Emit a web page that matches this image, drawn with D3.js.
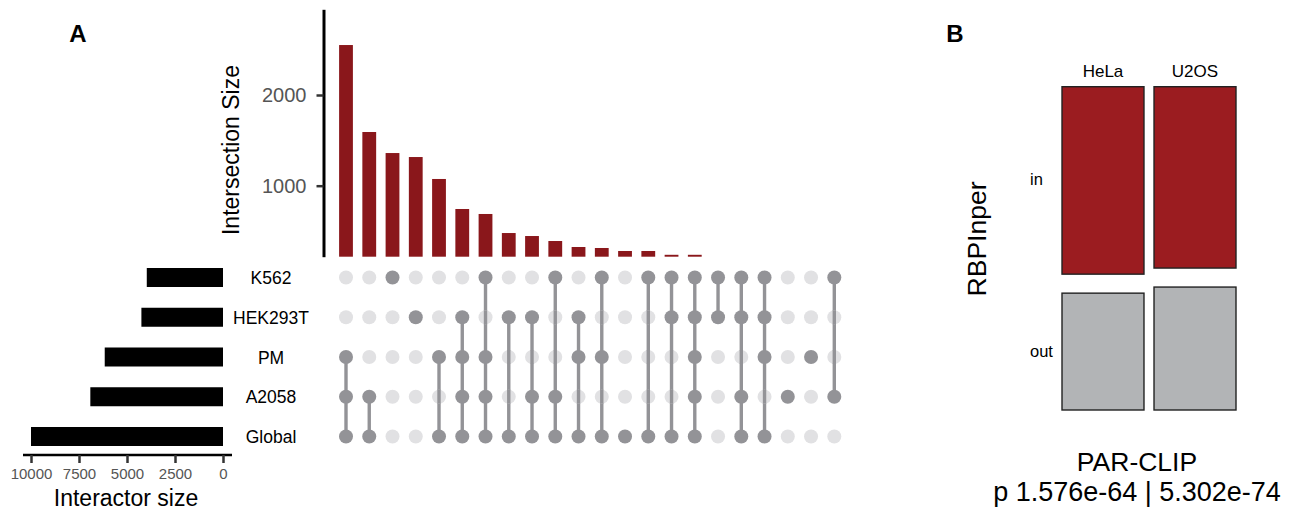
<!DOCTYPE html>
<html>
<head>
<meta charset="utf-8">
<script src="https://cdn.jsdelivr.net/npm/d3@7"></script>
<style>
  body { margin: 0; background: #fff; }
  svg text { font-family: "Liberation Sans", Arial, sans-serif; }
</style>
</head>
<body>
<svg id="canvas" width="1291" height="512"></svg>
<script>
// ---- data ----
const sets = ["K562", "HEK293T", "PM", "A2058", "Global"];
const setSizes = [3970, 4250, 6160, 6910, 10000];
const setTicks = [10000, 7500, 5000, 2500, 0];

// intersections, ordered by size (last ones are below the visible cut)
const interSizes = [2551, 1592, 1360, 1316, 1074, 743, 688, 478, 445, 390, 324, 313, 280, 280, 238, 238, 200, 190, 170, 150, 130, 110];
const interSets = [
    ["PM", "A2058", "Global"],
    ["A2058", "Global"],
    ["K562"],
    ["HEK293T"],
    ["PM", "Global"],
    ["HEK293T", "PM", "A2058", "Global"],
    ["K562", "PM", "A2058", "Global"],
    ["HEK293T", "Global"],
    ["HEK293T", "A2058", "Global"],
    ["K562", "A2058", "Global"],
    ["HEK293T", "PM", "Global"],
    ["K562", "PM", "Global"],
    ["Global"],
    ["K562", "Global"],
    ["K562", "HEK293T", "Global"],
    ["K562", "HEK293T", "PM", "A2058", "Global"],
    ["K562", "HEK293T"],
    ["K562", "HEK293T", "A2058", "Global"],
    ["K562", "HEK293T", "PM", "Global"],
    ["A2058"],
    ["PM"],
    ["K562", "A2058"]
];
const interTicks = [1000, 2000];

// panel B
const cellLines = ["HeLa", "U2OS"];
const rbpGroups = ["in", "out"];
const inShare = [0.616, 0.596];
const pLabel = "p 1.576e-64 | 5.302e-74";

const barRed = "#8a171b";
const dotDark = "#939397";
const dotLight = "#e1e1e3";

var svg = d3.select("#canvas");

// ---- panel A ----
var cols = d3.range(interSizes.length);
var x = d3.scalePoint()
    .domain(cols)
    .range([346, 834.3]);

// visible window of the bar panel (bottom of bars is cut like coord_cartesian)
var y = d3.scaleLinear()
    .domain([217, 2945])
    .range([256.7, 9.3]);

var bars = svg.append("g");
bars.selectAll(".ibar")
    .data(interSizes)
    .enter()
    .append("rect")
    .attr("class", "ibar")
    .attr("x", (d, i) => x(i) - 6.9)
    .attr("width", 13.8)
    .attr("y", d => y(Math.max(d, y.domain()[0])))
    .attr("height", d => y(y.domain()[0]) - y(Math.max(d, y.domain()[0])))
    .attr("fill", barRed);

var yAxis = svg.append("g")
    .attr("transform", "translate(323.5,0)")
    .call(d3.axisLeft(y).tickValues(interTicks).tickSize(7).tickSizeOuter(0).tickPadding(10).tickFormat(d3.format("d")));
yAxis.select(".domain").attr("stroke", "#000").attr("stroke-width", 3);
yAxis.selectAll(".tick line").attr("stroke", "#333").attr("stroke-width", 2.5);
yAxis.selectAll(".tick text")
    .attr("fill", "#555")
    .attr("font-size", 20)
    .style("font-family", "'Liberation Sans', Arial, sans-serif");

svg.append("text")
    .attr("transform", "translate(239,150) rotate(-90)")
    .attr("text-anchor", "middle")
    .attr("font-size", 23)
    .attr("fill", "#000")
    .text("Intersection Size");

// matrix
var rowY = d3.scalePoint()
    .domain(sets)
    .range([277.5, 436.5]);

var matrix = svg.append("g");
cols.forEach(function (c) {
    var members = interSets[c];
    var ys = members.map(s => rowY(s));
    if (members.length > 1) {
        matrix.append("line")
            .attr("x1", x(c)).attr("x2", x(c))
            .attr("y1", d3.min(ys)).attr("y2", d3.max(ys))
            .attr("stroke", dotDark)
            .attr("stroke-width", 3.4);
    }
});
cols.forEach(function (c) {
    matrix.selectAll(".dot-" + c)
        .data(sets)
        .enter()
        .append("circle")
        .attr("cx", x(c))
        .attr("cy", d => rowY(d))
        .attr("r", 7)
        .attr("fill", d => interSets[c].includes(d) ? dotDark : dotLight);
});
// redraw the connecting lines over the light dots they cross
cols.forEach(function (c) {
    var members = interSets[c];
    var ys = members.map(s => rowY(s));
    if (members.length > 1) {
        sets.forEach(function (s) {
            var ry = rowY(s);
            if (!members.includes(s) && ry > d3.min(ys) && ry < d3.max(ys)) {
                matrix.append("line")
                    .attr("x1", x(c)).attr("x2", x(c))
                    .attr("y1", ry - 7).attr("y2", ry + 7)
                    .attr("stroke", dotDark)
                    .attr("stroke-width", 3.4);
            }
        });
    }
});

// set labels
svg.selectAll(".setlab")
    .data(sets)
    .enter()
    .append("text")
    .attr("class", "setlab")
    .attr("x", 271)
    .attr("y", d => rowY(d) + 6.5)
    .attr("text-anchor", "middle")
    .attr("font-size", 17.5)
    .attr("fill", "#000")
    .text(d => d);

// set size bars
var xs = d3.scaleLinear()
    .domain([0, 10000])
    .range([223, 31]);

svg.selectAll(".sbar")
    .data(setSizes)
    .enter()
    .append("rect")
    .attr("class", "sbar")
    .attr("x", d => xs(d))
    .attr("width", d => xs(0) - xs(d))
    .attr("y", (d, i) => rowY(sets[i]) - 9.5)
    .attr("height", 19)
    .attr("fill", "#000");

var xsAxis = svg.append("g")
    .attr("transform", "translate(0,455)")
    .call(d3.axisBottom(xs).tickValues(setTicks).tickSize(8).tickPadding(5).tickSizeOuter(0).tickFormat(d3.format("d")));
xsAxis.select(".domain")
    .attr("d", "M" + (xs(10000) - 8) + ",0H" + (xs(0) + 9))
    .attr("stroke", "#000").attr("stroke-width", 2.5);
xsAxis.selectAll(".tick line").attr("stroke", "#333").attr("stroke-width", 2.5);
xsAxis.selectAll(".tick text")
    .attr("fill", "#555")
    .attr("font-size", 15)
    .style("font-family", "'Liberation Sans', Arial, sans-serif");

svg.append("text")
    .attr("x", 126)
    .attr("y", 506)
    .attr("text-anchor", "middle")
    .attr("font-size", 23)
    .attr("fill", "#000")
    .text("Interactor size");

svg.append("text")
    .attr("x", 78)
    .attr("y", 42)
    .attr("text-anchor", "middle")
    .attr("font-size", 24)
    .attr("font-weight", "bold")
    .text("A");

// ---- panel B ----
var xb = d3.scaleBand()
    .domain(cellLines)
    .range([1062, 1236])
    .paddingInner(0.109);

var bTop = 86.7, bBottom = 410, bGap = 19;
var bAvail = bBottom - bTop - bGap;
var yb = d3.scaleLinear().domain([0, 1]).range([0, bAvail]);

var mosaic = svg.append("g");
cellLines.forEach(function (cl, i) {
    var hIn = yb(inShare[i]);
    mosaic.append("rect")
        .attr("x", xb(cl))
        .attr("y", bTop)
        .attr("width", xb.bandwidth())
        .attr("height", hIn)
        .attr("fill", "#9b1c20")
        .attr("stroke", "#222")
        .attr("stroke-width", 1.4);
    mosaic.append("rect")
        .attr("x", xb(cl))
        .attr("y", bTop + hIn + bGap)
        .attr("width", xb.bandwidth())
        .attr("height", yb(1 - inShare[i]))
        .attr("fill", "#b2b4b6")
        .attr("stroke", "#222")
        .attr("stroke-width", 1.4);
});

svg.selectAll(".cl")
    .data(cellLines)
    .enter()
    .append("text")
    .attr("x", d => xb(d) + xb.bandwidth() / 2)
    .attr("y", 77)
    .attr("text-anchor", "middle")
    .attr("font-size", 17)
    .attr("fill", "#000")
    .text(d => d);

var groupY = [bTop + yb(inShare[0]) / 2, bTop + yb(inShare[0]) + bGap + yb(1 - inShare[0]) / 2];
svg.selectAll(".grp")
    .data(rbpGroups)
    .enter()
    .append("text")
    .attr("x", 1030)
    .attr("y", (d, i) => groupY[i] + 5)
    .attr("font-size", 16.5)
    .attr("fill", "#000")
    .text(d => d);

svg.append("text")
    .attr("transform", "translate(986,239) rotate(-90)")
    .attr("text-anchor", "middle")
    .attr("font-size", 26.5)
    .attr("fill", "#000")
    .text("RBPInper");

svg.append("text")
    .attr("x", 1137)
    .attr("y", 471)
    .attr("text-anchor", "middle")
    .attr("font-size", 26.5)
    .attr("fill", "#000")
    .text("PAR-CLIP");

svg.append("text")
    .attr("x", 1137)
    .attr("y", 501)
    .attr("text-anchor", "middle")
    .attr("font-size", 27)
    .attr("fill", "#000")
    .text(pLabel);

svg.append("text")
    .attr("x", 955)
    .attr("y", 42)
    .attr("text-anchor", "middle")
    .attr("font-size", 24)
    .attr("font-weight", "bold")
    .text("B");
</script>
</body>
</html>
